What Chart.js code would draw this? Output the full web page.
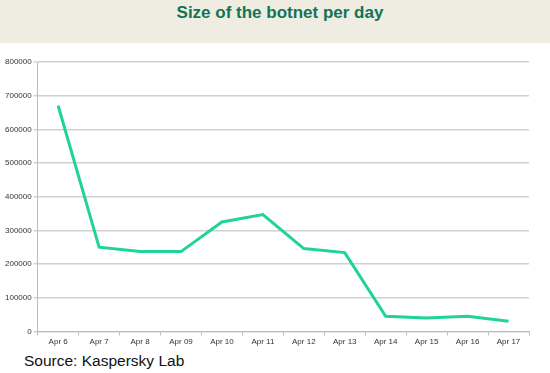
<!DOCTYPE html>
<html><head><meta charset="utf-8">
<script src="https://cdn.jsdelivr.net/npm/chart.js@4"></script>
<style>
html,body{margin:0;padding:0;background:#fff;width:550px;height:373px;overflow:hidden;font-family:"Liberation Sans",Arial,sans-serif;}
#hdr{position:absolute;left:0;top:0;width:550px;height:43px;background:#efece1;}
#title{position:absolute;left:5px;top:3px;width:550px;text-align:center;font-weight:bold;font-size:17px;color:#127457;}
#wrap{position:absolute;left:0;top:44px;width:550px;height:305px;}
#src{position:absolute;left:24px;top:352px;font-size:15.5px;color:#111;line-height:normal;}
</style></head><body>
<div id="hdr"><div id="title">Size of the botnet per day</div></div>
<div id="wrap"><canvas id="c"></canvas></div>
<div id="src">Source: Kaspersky Lab</div>
<script>
const categories = ["Apr 6","Apr 7","Apr 8","Apr 09","Apr 10","Apr 11","Apr 12","Apr 13","Apr 14","Apr 15","Apr 16","Apr 17"];
const botnetSize = [670000,250000,237000,237000,325000,347000,246000,234000,45000,40000,45000,30000];
const yTicks = [0,100000,200000,300000,400000,500000,600000,700000,800000];

new Chart(document.getElementById('c'), {
  type: 'line',
  data: { labels: categories, datasets: [{ data: botnetSize, borderColor: '#1fd39b', borderWidth: 3, pointRadius: 0, tension: 0, fill: false }] },
  options: {
    responsive: true, maintainAspectRatio: false, animation: false,
    layout: { padding: { top: 18, right: 21, left: 3, bottom: 0 } },
    plugins: { legend: { display: false }, tooltip: { enabled: false } },
    scales: {
      x: {
        offset: true,
        grid: { drawOnChartArea: false, drawTicks: true, tickLength: 4, color: '#bbb', offset: true },
        border: { color: '#bbb' },
        ticks: { color: '#333', font: { size: 8, family: 'Liberation Sans' }, maxRotation: 0, autoSkip: false, padding: 2 }
      },
      y: {
        min: 0, max: 800000,
        afterBuildTicks: (ax) => { ax.ticks = yTicks.map(v => ({ value: v })); },
        grid: { color: '#d0d0d0', lineWidth: 1.5, tickLength: 4 },
        border: { color: '#bbb' },
        ticks: { color: '#333', font: { size: 8, family: 'Liberation Sans' }, padding: 2, callback: v => String(v) }
      }
    }
  }
});
</script>
</body></html>
